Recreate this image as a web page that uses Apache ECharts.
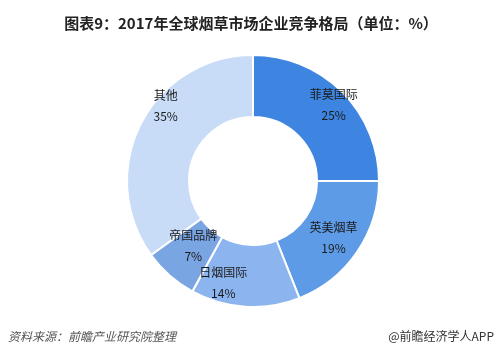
<!DOCTYPE html>
<html>
<head>
<meta charset="utf-8">
<script src="https://cdn.jsdelivr.net/npm/echarts@6/dist/echarts.min.js"></script>
<style>
  html, body { margin: 0; padding: 0; background: #fff; }
  #main { width: 502px; height: 355px; }
</style>
</head>
<body>
<div id="main"></div>
<script>
// 企业名称与份额（%）
var companies = ['菲莫国际', '英美烟草', '日烟国际', '帝国品牌', '其他'];
var shares = [25, 19, 14, 7, 35];
var colors = ['#3d85e0', '#5e9be6', '#8cb5ef', '#7aa5e3', '#c8dcf8'];

var pieData = companies.map(function (name, i) {
    return { name: name, value: shares[i], itemStyle: { color: colors[i] } };
});

// 标签微调（贴近原图里的摆放）
var labelShift = {
    '菲莫国际': [5, 0],
    '英美烟草': [-8, -3],
    '日烟国际': [-23, -5],
    '帝国品牌': [11, -15],
    '其他': [8, -26]
};

var chart = echarts.init(document.getElementById('main'));
chart.setOption({
    animation: false,
    textStyle: { fontFamily: '"Noto Sans CJK SC", sans-serif' },
    title: {
        text: '图表9：2017年全球烟草市场企业竞争格局（单位：%）',
        left: 'center',
        top: 11,
        textStyle: { fontSize: 15, fontWeight: 'bold', color: '#222', fontFamily: '"Noto Sans CJK SC", sans-serif' }
    },
    graphic: [
        { type: 'text', left: 8, top: 330,
          style: { text: '资料来源：前瞻产业研究院整理', fill: '#555', font: 'italic 12px "Noto Sans CJK SC"' } },
        { type: 'text', right: 8, top: 330,
          style: { text: '@前瞻经济学人APP', fill: '#333', font: '12px "Noto Sans CJK SC"' } }
    ],
    series: [{
        //主环
        type: 'pie',
        center: [253, 181],
        radius: [64, 126],
        startAngle: 90,
        clockwise: true,
        silent: true,
        itemStyle: { borderColor: '#fff', borderWidth: 2 },
        label: { show: false },
        labelLine: { show: false },
        data: pieData
    }, {
        //标签层（透明）
        type: 'pie',
        center: [253, 181],
        radius: [86, 122],
        startAngle: 90,
        clockwise: true,
        silent: true,
        avoidLabelOverlap: false,
        labelLayout: { hideOverlap: false },
        itemStyle: { color: 'rgba(0,0,0,0)' },
        label: {
            show: true,
            position: 'inside',
            formatter: '{b}\n{c}%',
            fontSize: 12,
            lineHeight: 21,
            color: '#1a1a1a'
        },
        labelLine: { show: false },
        data: companies.map(function (name, i) {
            return { name: name, value: shares[i], label: { offset: labelShift[name] } };
        })
    }]
});
</script>
</body>
</html>
